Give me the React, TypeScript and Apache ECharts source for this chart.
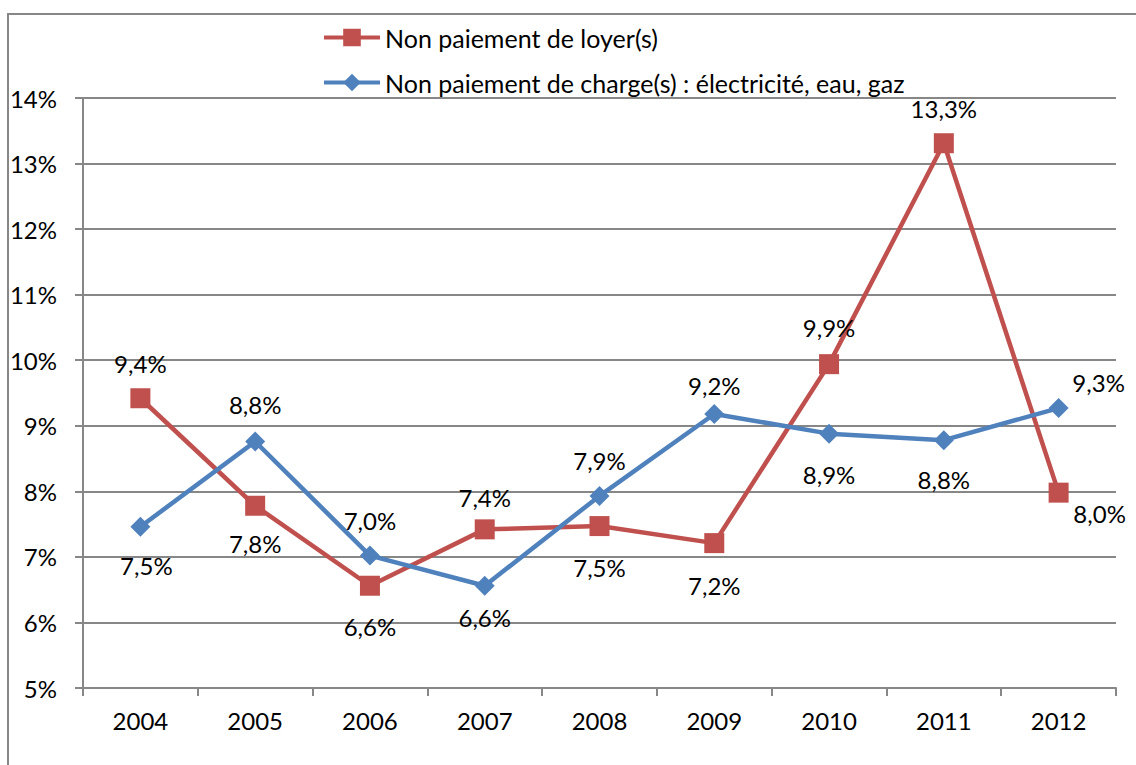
import React, { useEffect, useRef } from "react";
import * as echarts from "echarts";

const years = ["2004", "2005", "2006", "2007", "2008", "2009", "2010", "2011", "2012"];
const loyer = [9.42, 7.78, 6.56, 7.42, 7.47, 7.21, 9.94, 13.31, 7.98];
const charges = [7.46, 8.76, 7.02, 6.56, 7.93, 9.18, 8.88, 8.78, 9.27];
const seriesNames = ["Non paiement de loyer(s)", "Non paiement de charge(s) : électricité, eau, gaz"];

// label placement offsets (dx, dy) relative to each point
const loyerLabelOffsets = [[0, -35], [0, 38], [0, 41], [0, -32], [0, 41], [0, 42], [0, -37], [0, -35], [41, 21]];
const chargesLabelOffsets = [[6, 39], [0, -37], [0, -35], [0, 32], [0, -35], [0, -28], [0, 41], [0, 39], [40, -26]];

const FONT = "Lato, 'Open Sans', sans-serif";
const GRAY = "#878787";
const FS = 24;

function fmt(v: number) {
  return v.toFixed(1).replace(".", ",") + "%";
}

function buildData(values: number[], offsets: number[][]) {
  return values.map((v, i) => ({
    value: v,
    label: { position: "inside", offset: offsets[i] },
  }));
}

export default function App() {
  const ref = useRef<HTMLDivElement>(null);
  useEffect(() => {
    if (!ref.current) return;
    const chart = echarts.init(ref.current, null, { renderer: "svg" });
    const labelStyle = {
      show: true,
      color: "#000",
      fontSize: FS,
      fontFamily: FONT,
      formatter: (p: any) => fmt(p.value),
    };
    chart.setOption({
      animation: false,
      backgroundColor: "#fff",
      textStyle: { fontFamily: FONT },
      graphic: [
        {
          type: "rect",
          shape: { x: 8, y: 14, width: 1300, height: 900 },
          style: { fill: "none", stroke: GRAY, lineWidth: 2 },
          silent: true,
          z: -1,
        },
      ],
      legend: {
        orient: "vertical",
        left: 322,
        top: 25,
        padding: 0,
        itemWidth: 56,
        itemHeight: 22,
        itemGap: 20,
        lineStyle: { width: 4 },
        textStyle: { fontSize: 25, color: "#000", fontFamily: FONT, lineHeight: 24 },
        data: seriesNames,
      },
      grid: { left: 83, right: 20, top: 98, bottom: 77 },
      xAxis: {
        type: "category",
        data: years,
        boundaryGap: true,
        axisLine: { lineStyle: { color: GRAY, width: 2 } },
        axisTick: { show: true, length: 8, interval: 0, alignWithLabel: false, lineStyle: { color: GRAY, width: 2 } },
        axisLabel: { color: "#000", fontSize: FS, fontFamily: FONT, margin: 20, interval: 0 },
        splitLine: { show: false },
      },
      yAxis: {
        type: "value",
        min: 5,
        max: 14,
        interval: 1,
        axisLine: { show: true, lineStyle: { color: GRAY, width: 2 } },
        axisTick: { show: true, length: 8, lineStyle: { color: GRAY, width: 2 } },
        axisLabel: { color: "#000", fontSize: FS, fontFamily: FONT, margin: 26, formatter: "{value}%" },
        splitLine: { show: true, lineStyle: { color: GRAY, width: 2 } },
      },
      series: [
        {
          name: seriesNames[0],
          type: "line",
          data: buildData(loyer, loyerLabelOffsets),
          symbol: "rect",
          symbolSize: 20,
          itemStyle: { color: "#C0504D" },
          lineStyle: { color: "#C0504D", width: 4.5 },
          label: labelStyle,
          z: 3,
        },
        {
          name: seriesNames[1],
          type: "line",
          data: buildData(charges, chargesLabelOffsets),
          symbol: "diamond",
          symbolSize: 20,
          itemStyle: { color: "#4F81BD" },
          lineStyle: { color: "#4F81BD", width: 4.5 },
          label: labelStyle,
          z: 4,
        },
      ],
    });
    return () => chart.dispose();
  }, []);
  return (
    <div
      ref={ref}
      style={{ position: "absolute", left: 0, top: 0, width: 1136, height: 765 }}
    />
  );
}
